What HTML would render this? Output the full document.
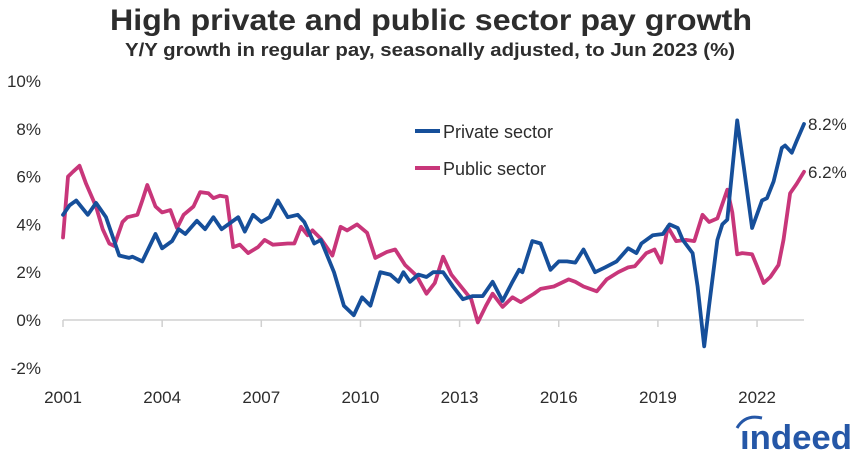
<!DOCTYPE html>
<html><head><meta charset="utf-8"><style>
html,body{margin:0;padding:0;background:#fff;}
svg{display:block;font-family:"Liberation Sans",sans-serif;}
</style></head><body>
<svg id="chart" width="860" height="457" viewBox="0 0 860 457">
<text x="431" y="30" text-anchor="middle" font-size="30" font-weight="bold" fill="#2d2d2d" textLength="642" lengthAdjust="spacingAndGlyphs">High private and public sector pay growth</text>
<text x="430" y="56" text-anchor="middle" font-size="18" font-weight="bold" fill="#2d2d2d" textLength="610" lengthAdjust="spacingAndGlyphs">Y/Y growth in regular pay, seasonally adjusted, to Jun 2023 (%)</text>
<g id="yaxis"></g>
<g id="xaxis"></g>
<g id="series"></g>
<g>
<line x1="415" y1="131" x2="440" y2="131" stroke="#164f9a" stroke-width="4"/>
<text x="443" y="138" font-size="18" fill="#2d2d2d">Private sector</text>
<line x1="415" y1="168" x2="440" y2="168" stroke="#c8367a" stroke-width="4"/>
<text x="443" y="175" font-size="18" fill="#2d2d2d">Public sector</text>
</g>
<text x="852" y="449" text-anchor="end" font-size="34" font-weight="bold" fill="#2557a7" textLength="112" lengthAdjust="spacingAndGlyphs">ındeed</text>
<path d="M737 428 Q745 414 762 418" fill="none" stroke="#2557a7" stroke-width="3"/>
</svg>
<script>
const yTicks=[-2,0,2,4,6,8,10];
const yTickLabels=["-2%","0%","2%","4%","6%","8%","10%"];
const xTicks=[2001,2004,2007,2010,2013,2016,2019,2022];
const xTickLabels=["2001","2004","2007","2010","2013","2016","2019","2022"];
const privDates=[2001.0,2001.2,2001.4,2001.75,2002.0,2002.3,2002.7,2003.0,2003.1,2003.4,2003.8,2004.0,2004.3,2004.5,2004.7,2005.05,2005.3,2005.55,2005.8,2006.3,2006.5,2006.75,2007.0,2007.25,2007.5,2007.8,2008.1,2008.3,2008.6,2008.8,2009.2,2009.5,2009.8,2010.05,2010.3,2010.6,2010.9,2011.15,2011.3,2011.5,2011.75,2012.0,2012.2,2012.5,2012.8,2013.1,2013.4,2013.7,2014.0,2014.3,2014.6,2014.8,2014.9,2015.2,2015.45,2015.75,2016.0,2016.25,2016.5,2016.75,2017.1,2017.4,2017.75,2018.1,2018.35,2018.5,2018.85,2019.15,2019.35,2019.6,2019.75,2020.05,2020.2,2020.4,2020.55,2020.8,2020.95,2021.1,2021.4,2021.6,2021.85,2022.15,2022.3,2022.5,2022.75,2022.85,2023.05,2023.2,2023.42];
const privValues=[4.4,4.8,5.0,4.4,4.9,4.3,2.7,2.6,2.65,2.45,3.6,3.0,3.3,3.8,3.6,4.15,3.8,4.3,3.8,4.3,3.7,4.4,4.1,4.3,5.0,4.3,4.4,4.1,3.2,3.35,2.0,0.6,0.2,0.95,0.6,2.0,1.9,1.6,2.0,1.6,1.9,1.8,2.0,2.0,1.4,0.87,1.0,1.0,1.6,0.8,1.6,2.1,2.0,3.3,3.2,2.1,2.45,2.45,2.4,2.95,2.0,2.2,2.45,3.0,2.8,3.2,3.55,3.6,4.0,3.85,3.35,2.8,1.4,-1.1,0.6,3.35,4.0,4.2,8.35,6.4,3.85,5.0,5.1,5.8,7.2,7.3,7.0,7.5,8.2];
const pubDates=[2001.0,2001.15,2001.3,2001.5,2001.7,2002.0,2002.2,2002.4,2002.55,2002.8,2002.95,2003.25,2003.4,2003.55,2003.8,2004.0,2004.25,2004.45,2004.65,2004.95,2005.15,2005.4,2005.55,2005.75,2005.95,2006.15,2006.35,2006.6,2006.9,2007.1,2007.35,2007.8,2008.0,2008.2,2008.4,2008.55,2008.8,2009.15,2009.4,2009.6,2009.9,2010.2,2010.45,2010.8,2011.05,2011.35,2011.7,2012.0,2012.25,2012.5,2012.75,2013.1,2013.35,2013.55,2013.8,2014.0,2014.3,2014.6,2014.85,2015.25,2015.45,2015.85,2016.3,2016.5,2016.75,2017.15,2017.45,2017.8,2018.1,2018.3,2018.65,2018.9,2019.1,2019.3,2019.55,2019.85,2020.1,2020.35,2020.55,2020.8,2021.1,2021.25,2021.4,2021.55,2021.85,2022.0,2022.2,2022.4,2022.65,2022.8,2023.0,2023.2,2023.42];
const pubValues=[3.45,6.0,6.2,6.45,5.7,4.75,3.8,3.2,3.1,4.1,4.3,4.4,5.0,5.65,4.75,4.5,4.6,3.85,4.4,4.75,5.35,5.3,5.1,5.2,5.15,3.05,3.15,2.8,3.05,3.35,3.15,3.2,3.2,3.9,3.55,3.75,3.4,2.7,3.9,3.75,4.0,3.65,2.6,2.85,2.95,2.3,1.85,1.1,1.55,2.65,1.9,1.3,0.87,-0.1,0.6,1.1,0.55,0.95,0.75,1.1,1.3,1.4,1.7,1.6,1.4,1.2,1.7,2.0,2.2,2.25,2.8,2.95,2.4,3.9,3.3,3.35,3.3,4.4,4.1,4.25,5.45,4.5,2.75,2.8,2.75,2.25,1.55,1.8,2.3,3.35,5.3,5.7,6.2];
const endLabels=["8.2%","6.2%"];

const NS="http://www.w3.org/2000/svg";
const X=yr=>63+(yr-2001)*33.05;
const Y=v=>320-v*23.9;
function mk(tag,attrs,parent){const e=document.createElementNS(NS,tag);for(const k in attrs)e.setAttribute(k,attrs[k]);parent.appendChild(e);return e;}
const ya=document.getElementById('yaxis'),xa=document.getElementById('xaxis'),sg=document.getElementById('series');
yTicks.forEach((t,i)=>{
  const e=mk('text',{x:41,y:Y(t)+6,'text-anchor':'end','font-size':17,fill:'#2d2d2d'},ya);
  
  
  e.textContent=yTickLabels[i];
});
const axl=mk('line',{x1:X(2001),y1:Y(0),x2:X(2023.42),y2:Y(0),stroke:'#d0d0d0','stroke-width':1.5},xa);


xTicks.forEach((t,i)=>{
  const tk=mk('line',{x1:X(t),y1:Y(0),x2:X(t),y2:Y(0)+7,stroke:'#d0d0d0','stroke-width':1.5},xa);
  
  
  const e=mk('text',{x:X(t),y:403,'text-anchor':'middle','font-size':17,fill:'#2d2d2d'},xa);
  
  
  e.textContent=xTickLabels[i];
});
function line(dates,vals,color,name){
  const d=dates.map((t,i)=>(i?'L':'M')+X(t).toFixed(1)+' '+Y(vals[i]).toFixed(1)).join(' ');
  const p=mk('path',{d:d,fill:'none',stroke:color,'stroke-width':3.8,'stroke-linejoin':'round','stroke-linecap':'round'},sg);
  
  
}
line(pubDates,pubValues,'#c8367a','public-sector-line');
line(privDates,privValues,'#164f9a','private-sector-line');
const l1=mk('text',{x:808,y:Y(privValues[privValues.length-1])+6,'font-size':17,fill:'#2d2d2d'},sg);


l1.textContent=endLabels[0];
const l2=mk('text',{x:808,y:Y(pubValues[pubValues.length-1])+6,'font-size':17,fill:'#2d2d2d'},sg);


l2.textContent=endLabels[1];
</script>
</body></html>
